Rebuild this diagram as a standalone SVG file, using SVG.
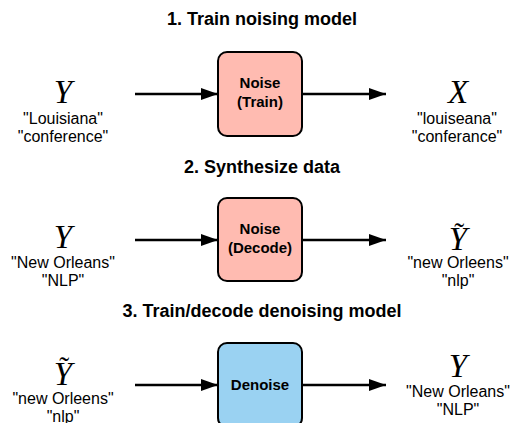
<svg xmlns="http://www.w3.org/2000/svg" width="513" height="423" viewBox="0 0 513 423">
<defs>
<style>
.title{font-family:"Liberation Sans",Arial,sans-serif;font-weight:bold;font-size:18px;fill:#000;text-anchor:middle}
.box{stroke:#000;stroke-width:2}
.noise{fill:#ffbbb1}
.denoise{fill:#9ad2f2}
.btxt{font-family:"Liberation Sans",Arial,sans-serif;font-weight:bold;font-size:15px;fill:#000;text-anchor:middle}
.math{font-family:"Liberation Serif","Times New Roman",serif;font-style:italic;font-size:33px;fill:#000;text-anchor:middle}
.tilde{font-family:"Liberation Serif","Times New Roman",serif;font-style:normal;font-size:30px}
.lbl{font-family:"Liberation Sans",Arial,sans-serif;font-size:16px;fill:#000;text-anchor:middle}
.conn{stroke:#000;stroke-width:2.5;fill:none;marker-end:url(#arr)}
</style>
<marker id="arr" markerWidth="17" markerHeight="12" refX="17" refY="6" orient="auto" markerUnits="userSpaceOnUse">
<path d="M0,0 L17,6 L0,12 Z" fill="#000"/>
</marker>
</defs>
<rect width="513" height="423" fill="#fff"/>
<g id="titles">
<text class="title" x="262" y="25">1. Train noising model</text>
<text class="title" x="262" y="173">2. Synthesize data</text>
<text class="title" x="262" y="317">3. Train/decode denoising model</text>
</g>
<g id="connectors">
<line class="conn" x1="135" y1="94" x2="218" y2="94"/>
<line class="conn" x1="302" y1="94" x2="386" y2="94"/>
<line class="conn" x1="135" y1="240" x2="218" y2="240"/>
<line class="conn" x1="302" y1="240" x2="386" y2="240"/>
<line class="conn" x1="135" y1="385" x2="218" y2="385"/>
<line class="conn" x1="302" y1="385" x2="386" y2="385"/>
</g>
<g id="noise-train">
<rect class="box noise" x="218" y="52" width="84" height="84" rx="9"/>
<text class="btxt" x="260" y="88">Noise</text>
<text class="btxt" x="260" y="107">(Train)</text>
</g>
<g id="noise-decode">
<rect class="box noise" x="218" y="198" width="84" height="83" rx="9"/>
<text class="btxt" x="260" y="234">Noise</text>
<text class="btxt" x="260" y="253">(Decode)</text>
</g>
<g id="denoise">
<rect class="box denoise" x="218" y="343" width="84" height="84" rx="9"/>
<text class="btxt" x="260" y="390">Denoise</text>
</g>
<g id="in1">
<text class="math" x="63" y="103">Y</text>
<text class="lbl" x="63" y="124">"Louisiana"</text>
<text class="lbl" x="63" y="142">"conference"</text>
</g>
<g id="out1">
<text class="math" x="458" y="103">X</text>
<text class="lbl" x="457" y="124">"louiseana"</text>
<text class="lbl" x="457" y="142">"conferance"</text>
</g>
<g id="in2">
<text class="math" x="63" y="248">Y</text>
<text class="lbl" x="63" y="268">"New Orleans"</text>
<text class="lbl" x="63" y="286">"NLP"</text>
</g>
<g id="out2">
<text class="math" x="458" y="250">Y<tspan class="tilde" dx="-13" dy="-7">˜</tspan></text>
<text class="lbl" x="458" y="268">"new Orleens"</text>
<text class="lbl" x="458" y="286">"nlp"</text>
</g>
<g id="in3">
<text class="math" x="63" y="385">Y<tspan class="tilde" dx="-13" dy="-8">˜</tspan></text>
<text class="lbl" x="63" y="404">"new Orleens"</text>
<text class="lbl" x="63" y="422">"nlp"</text>
</g>
<g id="out3">
<text class="math" x="458" y="377">Y</text>
<text class="lbl" x="458" y="397">"New Orleans"</text>
<text class="lbl" x="458" y="415">"NLP"</text>
</g>
</svg>
